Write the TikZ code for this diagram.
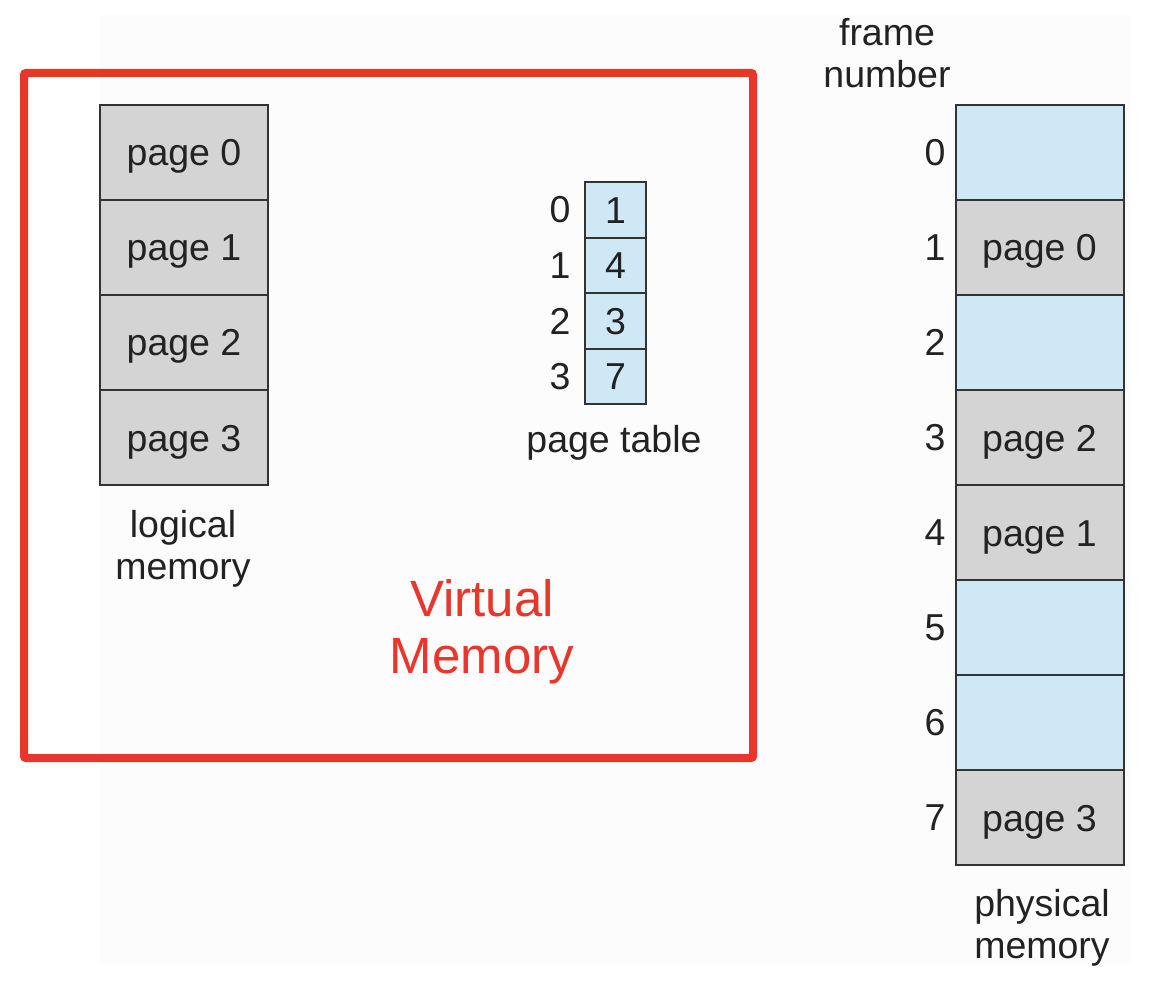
\documentclass[tikz,border=0pt]{standalone}
\usepackage{fontspec}
\setmainfont{Liberation Sans}
\definecolor{vmred}{HTML}{E8362A}
\definecolor{cellgray}{HTML}{D4D4D4}
\definecolor{cellblue}{HTML}{CFE8F6}
\definecolor{ink}{HTML}{222222}
\definecolor{edge}{HTML}{333333}
\definecolor{paper}{HTML}{FCFCFC}
\tikzset{
  txt/.style={text=ink, font=\fontsize{37.5}{42}\selectfont, inner sep=0pt, align=center},
  pagecell/.style={draw=edge, line width=2pt, fill=cellgray, minimum width=168pt, minimum height=95pt, inner sep=0pt, text height=27pt, text depth=0pt, text=ink, font=\fontsize{37.5}{43}\selectfont},
  freecell/.style={draw=edge, line width=2pt, fill=cellblue, minimum width=168pt, minimum height=95pt, inner sep=0pt},
  ptcell/.style={draw=edge, line width=2pt, fill=cellblue, minimum width=61pt, minimum height=55.5pt, inner sep=0pt, text height=27pt, text depth=0pt, text=ink, font=\fontsize{37.5}{43}\selectfont},
  vmbox/.style={draw=vmred, line width=8pt, rounded corners=2pt},
}
\begin{document}
\begin{tikzpicture}[x=1pt,y=-1pt]
\useasboundingbox (0,0) rectangle (1152,984);
\fill[white] (0,0) rectangle (1152,984);
\fill[paper] (100,15) rectangle (1130,965);

% virtual memory box
\draw[vmbox] (24,73) rectangle (753,758);
\node[txt, text=vmred, font=\fontsize{51}{57}\selectfont] (vm) at (482,632) {Virtual\\Memory};

% logical memory
\node[pagecell] (lm0) at (184,152.5) {page 0};
\node[pagecell] (lm1) at (184,247.5) {page 1};
\node[pagecell] (lm2) at (184,342.5) {page 2};
\node[pagecell] (lm3) at (184,437.5) {page 3};
\node[txt] (lmlabel) at (183,549) {logical\\memory};

% page table
\node[ptcell] (pt0) at (615.5,210) {1};
\node[ptcell] (pt1) at (615.5,265.5) {4};
\node[ptcell] (pt2) at (615.5,321) {3};
\node[ptcell] (pt3) at (615.5,376.5) {7};
\node[txt] (pti0) at (560,210) {0};
\node[txt] (pti1) at (560,265.5) {1};
\node[txt] (pti2) at (560,321) {2};
\node[txt] (pti3) at (560,376.5) {3};
\node[txt] (ptlabel) at (614,443) {page table};

% physical memory
\node[freecell] (pm0) at (1039.5,152.5) {};
\node[pagecell] (pm1) at (1039.5,247.5) {page 0};
\node[freecell] (pm2) at (1039.5,342.5) {};
\node[pagecell] (pm3) at (1039.5,437.5) {page 2};
\node[pagecell] (pm4) at (1039.5,532.5) {page 1};
\node[freecell] (pm5) at (1039.5,627.5) {};
\node[freecell] (pm6) at (1039.5,722.5) {};
\node[pagecell] (pm7) at (1039.5,817.5) {page 3};
\foreach \i/\y in {0/152.5,1/247.5,2/342.5,3/437.5,4/532.5,5/627.5,6/722.5,7/817.5}
  \node[txt] (fn\i) at (935,\y) {\i};
\node[txt] (fnlabel) at (887,53) {frame\\number};
\node[txt] (pmlabel) at (1042,928) {physical\\memory};
\end{tikzpicture}
\end{document}
